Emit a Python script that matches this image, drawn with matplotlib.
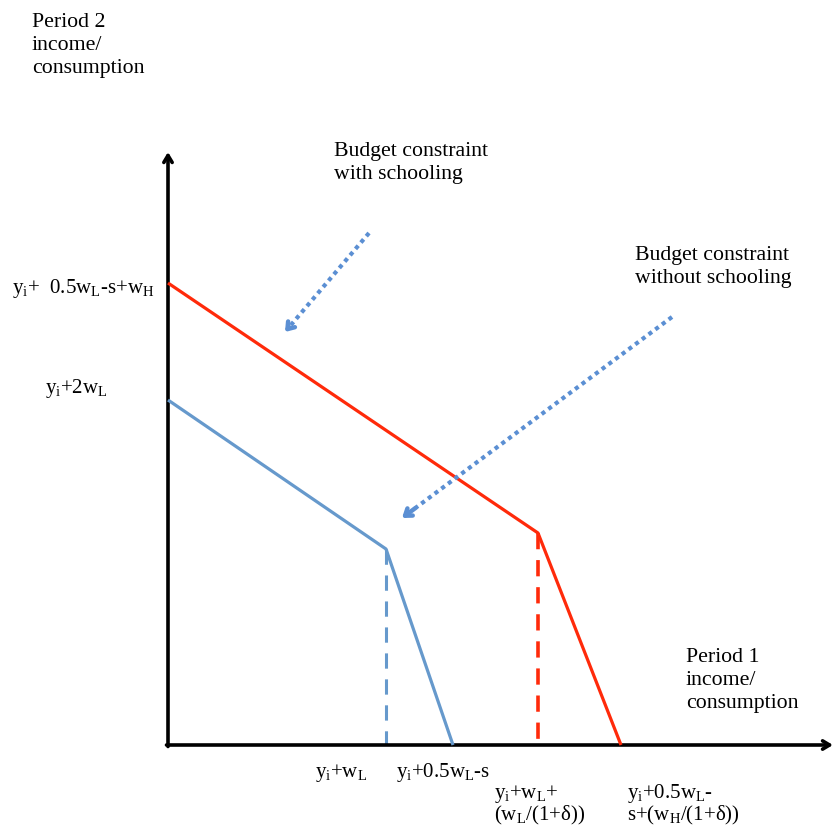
import matplotlib.pyplot as plt

plt.rcParams['font.family'] = ['Liberation Serif', 'DejaVu Serif']
plt.rcParams['mathtext.fontset'] = 'custom'
plt.rcParams['mathtext.rm'] = 'Liberation Serif'
plt.rcParams['mathtext.it'] = 'Liberation Serif:italic'

# budget constraints (arbitrary units, origin at the axis crossing)
with_x = [0, 37.0, 45.3]
with_y = [46.2, 21.2, 0]
without_x = [0, 21.8, 28.5]
without_y = [34.5, 19.6, 0]

# pointer arrows: (start, end)
arrow_with = [(20.1, 51.2), (11.7, 41.3)]
arrow_without = [(50.4, 42.8), (23.4, 22.7)]

RED = '#FF2A0A'
BLUE = '#6699CC'
DOT = '#5B8FD3'

fig = plt.figure(figsize=(8.34, 8.30), dpi=100)
ax = fig.add_axes([0, 0, 1, 1])
ax.set_xlim(-16.8, 66.6)
ax.set_ylim(-8.5, 74.5)
ax.axis('off')

# axes with arrow heads
ax.annotate('', xy=(0, 59.3), xytext=(0, -0.15),
            arrowprops=dict(arrowstyle='->,head_length=0.5,head_width=0.3',
                            color='black', lw=2.6, shrinkA=0, shrinkB=0))
ax.annotate('', xy=(66.5, 0), xytext=(-0.15, 0),
            arrowprops=dict(arrowstyle='->,head_length=0.5,head_width=0.3',
                            color='black', lw=2.6, shrinkA=0, shrinkB=0))

# constraint lines
ax.plot(with_x, with_y, color=RED, lw=2.3, solid_capstyle='butt', zorder=3)
ax.plot(without_x, without_y, color=BLUE, lw=2.3, solid_capstyle='butt', zorder=3)
ax.plot([with_x[1], with_x[1]], [with_y[1], 0], color=RED, lw=2.6,
        dashes=(4.5, 3), zorder=2)
ax.plot([without_x[1], without_x[1]], [without_y[1], 0], color=BLUE, lw=2.2,
        dashes=(5, 3.5), zorder=2)

# dotted pointers
for (x0, y0), (x1, y1) in [arrow_with, arrow_without]:
    fx = x1 + (x0 - x1) * 0.05
    fy = y1 + (y0 - y1) * 0.05
    ax.plot([x0, fx], [y0, fy], color=DOT, lw=3.0, dashes=(1, 1), zorder=4)
    ax.annotate('', xy=(x1, y1), xytext=(fx, fy),
                arrowprops=dict(arrowstyle='->,head_length=0.45,head_width=0.32',
                                color=DOT, lw=3.2, shrinkA=0, shrinkB=0),
                zorder=4)

fs = 15
fh = 15.7  # headings
ls = 1.3
ax.text(-13.6, 73.2, 'Period 2\nincome/\nconsumption', fontsize=fh, va='top', ha='left',
        linespacing=ls)
ax.text(16.6, 60.3, 'Budget constraint\nwith schooling', fontsize=fh, va='top', ha='left',
        linespacing=ls)
ax.text(46.7, 49.9, 'Budget constraint\nwithout schooling', fontsize=fh, va='top', ha='left',
        linespacing=ls)
ax.text(51.8, 9.7, 'Period 1\nincome/\nconsumption', fontsize=fh, va='top', ha='left',
        linespacing=ls)

ax.text(-15.6, 45.2, r'y$_\mathrm{i}$+  0.5w$_\mathrm{L}$-s+w$_\mathrm{H}$',
        fontsize=fs, va='baseline', ha='left')
ax.text(-12.3, 35.2, r'y$_\mathrm{i}$+2w$_\mathrm{L}$',
        fontsize=fs, va='baseline', ha='left')

ax.text(14.7, -3.2, r'y$_\mathrm{i}$+w$_\mathrm{L}$', fontsize=fs, va='baseline', ha='left')
ax.text(22.8, -3.2, r'y$_\mathrm{i}$+0.5w$_\mathrm{L}$-s', fontsize=fs, va='baseline', ha='left')
ax.text(32.6, -5.3, r'y$_\mathrm{i}$+w$_\mathrm{L}$+', fontsize=fs, va='baseline', ha='left')
ax.text(32.6, -7.5, r'(w$_\mathrm{L}$/(1+δ))', fontsize=fs, va='baseline', ha='left')
ax.text(45.9, -5.3, r'y$_\mathrm{i}$+0.5w$_\mathrm{L}$-', fontsize=fs, va='baseline', ha='left')
ax.text(45.9, -7.5, r's+(w$_\mathrm{H}$/(1+δ))', fontsize=fs, va='baseline', ha='left')

fig.savefig('out.png', dpi=100)
